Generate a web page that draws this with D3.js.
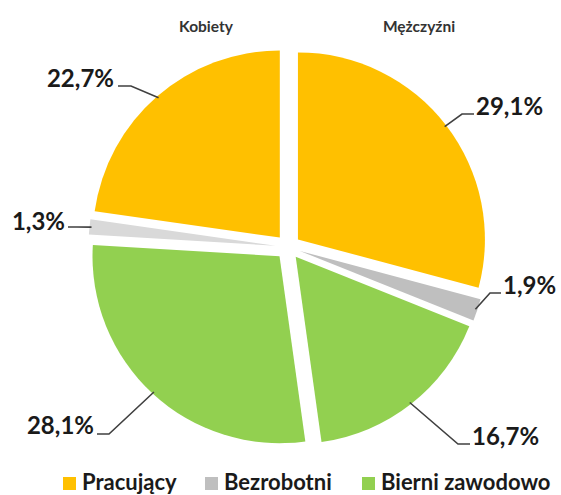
<!DOCTYPE html>
<html>
<head>
<meta charset="utf-8">
<script src="https://cdn.jsdelivr.net/npm/d3@7"></script>
<style>
  html, body { margin: 0; padding: 0; background: #fff; }
  svg { display: block; }
</style>
</head>
<body>
<svg id="chart" width="561" height="495"></svg>
<script>
// ---- data ----
const categories = ["Pracujący", "Bezrobotni", "Bierni zawodowo"];
const groupTitles = ["Kobiety", "Mężczyźni"];
const menValues = [29.1, 1.9, 16.7];      // Pracujący, Bezrobotni, Bierni zawodowo
const womenValues = [22.7, 1.3, 28.1];    // Pracujący, Bezrobotni, Bierni zawodowo
const menLabels = ["29,1%", "1,9%", "16,7%"];
const womenLabels = ["22,7%", "1,3%", "28,1%"];

// ---- styles ----
const catColors = ["#FFC000", "#BFBFBF", "#92D050"];
const womenGray = "#D9D9D9";
const FONT = "Lato, 'Open Sans', 'DejaVu Sans', sans-serif";

// slices clockwise from 12 o'clock: men (in order), then women (reversed)
const slices = [];
menValues.forEach((v, i) => slices.push({ value: v, cat: i, label: menLabels[i], sex: "M",
  color: catColors[i] }));
[2, 1, 0].forEach(i => slices.push({ value: womenValues[i], cat: i, label: womenLabels[i], sex: "K",
  color: i === 1 ? womenGray : catColors[i] }));

const svg = d3.select("#chart");
const cx = 288, cy = 247, R = 187, explode = 12.5;

const pie = d3.pie().sort(null).value(d => d.value);
const arc = d3.arc().innerRadius(0).outerRadius(R);
const arcs = pie(slices);

const g = svg.append("g").attr("transform", `translate(${cx},${cy})`);

arcs.forEach(a => {
  const mid = (a.startAngle + a.endAngle) / 2;
  a.mid = mid;
  a.ox = Math.sin(mid) * explode;
  a.oy = -Math.cos(mid) * explode;
});

g.selectAll("path.slice")
  .data(arcs)
  .join("path")
  .attr("class", "slice")
  .attr("d", arc)
  .attr("fill", d => d.data.color)
  .attr("transform", d => `translate(${d.ox},${d.oy})`);

// label layout (relative to pie centre): elbow point, line end, text x, baseline y, anchor
const labelLayout = [
  { elbow: [174, -133], end: [186, -133], tx: 188, ty: -132, anchor: "start" }, // 29,1
  { elbow: [202, 46],   end: [213, 46],   tx: 215, ty: 47,   anchor: "start" }, // 1,9
  { elbow: [170, 197],  end: [182, 197],  tx: 184, ty: 198,  anchor: "start" }, // 16,7
  { elbow: [-179, 187], end: [-191, 187], tx: -194, ty: 187, anchor: "end" },   // 28,1
  { elbow: [-211, -20], end: [-220, -20], tx: -223, ty: -17, anchor: "end" },   // 1,3
  { elbow: [-157, -161], end: [-170, -161], tx: -174, ty: -160, anchor: "end" } // 22,7
];

const lg = g.append("g");
arcs.forEach((a, i) => {
  const L = labelLayout[i];
  const sx = a.ox + Math.sin(a.mid) * (R - 2);
  const sy = a.oy - Math.cos(a.mid) * (R - 2);
  lg.append("polyline")
    .attr("points", [[sx, sy], L.elbow, L.end].map(p => p.join(",")).join(" "))
    .attr("fill", "none")
    .attr("stroke", "#404040")
    .attr("stroke-width", 1.6);
  lg.append("text")
    .attr("x", L.tx).attr("y", L.ty)
    .attr("text-anchor", L.anchor)
    .attr("font-family", FONT)
    .attr("font-weight", "bold")
    .attr("font-size", 24)
    .attr("fill", "#1a1a1a")
    .text(a.data.label);
});

// group titles
svg.append("text").attr("x", 206).attr("y", 32).attr("text-anchor", "middle")
  .attr("font-family", FONT).attr("font-weight", "bold").attr("font-size", 15.5)
  .attr("fill", "#333333").text(groupTitles[0]);
svg.append("text").attr("x", 419).attr("y", 32).attr("text-anchor", "middle")
  .attr("font-family", FONT).attr("font-weight", "bold").attr("font-size", 15.5)
  .attr("fill", "#333333").text(groupTitles[1]);

// legend
const legendX = [63, 205, 362];
const leg = svg.append("g");
categories.forEach((c, i) => {
  leg.append("rect").attr("x", legendX[i]).attr("y", 477).attr("width", 13).attr("height", 13)
    .attr("fill", catColors[i]);
  leg.append("text").attr("x", legendX[i] + 19).attr("y", 490)
    .attr("font-family", FONT).attr("font-size", 22).attr("font-weight", "bold")
    .attr("fill", "#1a1a1a").text(c);
});
</script>
</body>
</html>
